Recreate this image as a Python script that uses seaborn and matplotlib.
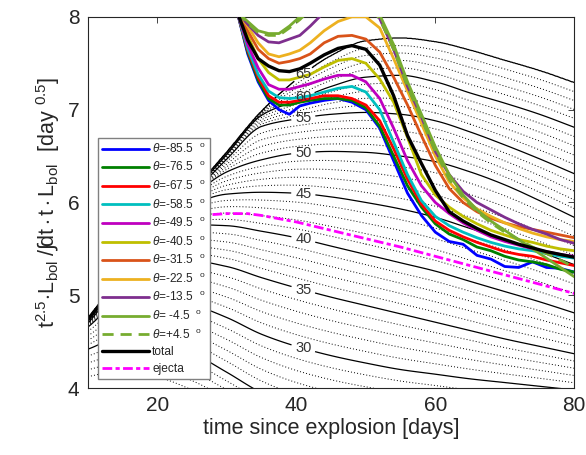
import numpy as np
import pandas as pd
import matplotlib
matplotlib.use("Agg")
import matplotlib.pyplot as plt
import seaborn as sns

# ---------------- data ----------------
# model family (contour levels) : y-position of every 5th level at these times
t_cols = [10, 15, 20, 25, 30, 35, 40, 45, 50, 55, 60, 65, 70, 75, 80]
model_levels = [20, 25, 30, 35, 40, 45, 50, 55, 60, 65]
y_L20 = [4.05, 4.10, 4.02, 3.88, 3.70, 3.52, 3.38, 3.28, 3.20, 3.14, 3.10, 3.06, 3.02, 2.99, 2.96]
y_L25 = [4.42, 4.55, 4.52, 4.38, 4.17, 3.95, 3.80, 3.70, 3.63, 3.58, 3.54, 3.50, 3.47, 3.44, 3.42]
y_L30 = [4.66, 4.95, 4.98, 4.90, 4.76, 4.58, 4.45, 4.35, 4.27, 4.20, 4.15, 4.10, 4.06, 4.02, 3.98]
y_L35 = [4.70, 5.12, 5.33, 5.37, 5.31, 5.19, 5.08, 4.98, 4.89, 4.80, 4.71, 4.62, 4.53, 4.45, 4.37]
y_L40 = [4.72, 5.18, 5.58, 5.76, 5.75, 5.69, 5.62, 5.53, 5.44, 5.35, 5.26, 5.15, 5.04, 4.93, 4.81]
y_L45 = [4.73, 5.20, 5.64, 5.97, 6.09, 6.11, 6.10, 6.06, 6.00, 5.93, 5.84, 5.72, 5.60, 5.47, 5.33]
y_L50 = [4.74, 5.21, 5.66, 6.06, 6.33, 6.46, 6.53, 6.55, 6.54, 6.50, 6.44, 6.33, 6.19, 6.02, 5.84]
y_L55 = [4.745, 5.22, 5.67, 6.08, 6.47, 6.82, 6.90, 6.95, 6.97, 6.95, 6.88, 6.76, 6.62, 6.47, 6.31]
y_L60 = [4.748, 5.225, 5.675, 6.10, 6.52, 6.94, 7.10, 7.25, 7.35, 7.37, 7.30, 7.18, 7.07, 6.95, 6.81]
y_L65 = [4.75, 5.23, 5.68, 6.11, 6.54, 6.98, 7.32, 7.58, 7.74, 7.77, 7.73, 7.64, 7.53, 7.42, 7.29]
labelled_levels = [30, 35, 40, 45, 50, 55, 60, 65]
label_time = 41

# observed curves
x_obs = [31.5, 33, 34.5, 36, 37.5, 39, 40.5, 42, 44, 46, 48, 50, 52, 54, 56, 58,
         60, 62, 64, 66, 68, 70, 72, 74, 76, 78, 80]
y_m85 = [8.05, 7.60, 7.30, 7.10, 7.00, 6.95, 7.04, 7.07, 7.10, 7.12, 7.08, 7.00, 6.80, 6.45, 6.10, 5.86,
         5.68, 5.58, 5.55, 5.43, 5.39, 5.31, 5.30, 5.36, 5.30, 5.29, 5.25]
y_m76 = [8.05, 7.62, 7.32, 7.12, 7.05, 7.05, 7.08, 7.10, 7.12, 7.12, 7.10, 7.02, 6.82, 6.50, 6.18, 5.95,
         5.77, 5.66, 5.60, 5.52, 5.48, 5.42, 5.38, 5.36, 5.33, 5.28, 5.25]
y_m67 = [8.05, 7.64, 7.35, 7.15, 7.08, 7.08, 7.10, 7.12, 7.15, 7.15, 7.12, 7.05, 6.88, 6.58, 6.25, 5.98,
         5.80, 5.70, 5.63, 5.57, 5.52, 5.47, 5.44, 5.42, 5.38, 5.35, 5.32]
y_m58 = [8.05, 7.66, 7.38, 7.20, 7.13, 7.12, 7.13, 7.15, 7.19, 7.23, 7.25, 7.19, 7.00, 6.65, 6.30, 6.02,
         5.85, 5.75, 5.68, 5.62, 5.57, 5.53, 5.50, 5.48, 5.45, 5.42, 5.40]
y_m49 = [8.05, 7.70, 7.45, 7.27, 7.22, 7.22, 7.25, 7.28, 7.33, 7.37, 7.37, 7.30, 7.12, 6.80, 6.45, 6.18,
         6.00, 5.88, 5.78, 5.70, 5.63, 5.58, 5.54, 5.50, 5.47, 5.44, 5.42]
y_m40 = [8.05, 7.80, 7.55, 7.40, 7.32, 7.32, 7.35, 7.38, 7.46, 7.53, 7.55, 7.50, 7.33, 7.08, 6.70, 6.30,
         6.08, 5.95, 5.85, 5.77, 5.70, 5.65, 5.60, 5.57, 5.53, 5.50, 5.48]
y_m31 = [8.05, 7.85, 7.65, 7.55, 7.50, 7.52, 7.55, 7.60, 7.72, 7.79, 7.80, 7.76, 7.62, 7.35, 7.05, 6.72,
         6.40, 6.15, 6.00, 5.90, 5.83, 5.78, 5.74, 5.71, 5.68, 5.65, 5.62]
y_m22 = [8.05, 7.90, 7.72, 7.60, 7.57, 7.60, 7.64, 7.72, 7.85, 7.95, 8.00, 8.00, 7.88, 7.55, 7.20, 6.85,
         6.50, 6.22, 6.05, 5.93, 5.85, 5.78, 5.72, 5.67, 5.63, 5.60, 5.58]
y_m13 = [8.05, 7.92, 7.80, 7.73, 7.72, 7.76, 7.80, 7.90, 8.05, 8.15, 8.20, 8.15, 7.98, 7.65, 7.25, 6.92,
         6.55, 6.30, 6.12, 6.00, 5.92, 5.84, 5.77, 5.71, 5.66, 5.60, 5.56]
y_m04 = [8.05, 7.95, 7.85, 7.82, 7.82, 7.90, 8.00, 8.10, 8.20, 8.25, 8.25, 8.20, 8.02, 7.70, 7.30, 6.95,
         6.60, 6.30, 6.08, 5.92, 5.80, 5.70, 5.60, 5.50, 5.40, 5.30, 5.20]
y_p04 = [8.05, 7.93, 7.83, 7.80, 7.80, 7.88, 7.97, 8.08, 8.18, 8.22, 8.22, 8.15, 7.98, 7.65, 7.25, 6.90,
         6.55, 6.25, 6.05, 5.90, 5.78, 5.68, 5.60, 5.52, 5.45, 5.38, 5.30]
y_total = [8.05, 7.75, 7.55, 7.47, 7.42, 7.41, 7.44, 7.50, 7.59, 7.66, 7.69, 7.65, 7.48, 7.15, 6.72, 6.42,
           6.13, 5.90, 5.80, 5.72, 5.65, 5.60, 5.55, 5.51, 5.47, 5.44, 5.41]
x_ejecta = [25, 28, 30, 33, 35, 40, 45, 50, 55, 60, 65, 70, 75, 80]
y_ejecta = [5.84, 5.87, 5.88, 5.88, 5.86, 5.79, 5.70, 5.61, 5.52, 5.42, 5.32, 5.22, 5.12, 5.02]

theta_labels = ["-85.5", "-76.5", "-67.5", "-58.5", "-49.5", "-40.5", "-31.5", "-22.5", "-13.5", " -4.5", "+4.5"]
theta_colors = ["#0000FF", "#008000", "#FF0000", "#00BFBF", "#BF00BF", "#BFBF00",
                "#D95319", "#EDB120", "#7E2F8E", "#77AC30", "#77AC30"]

# ---------------- style ----------------
sns.set_theme(style="white")
plt.rcParams.update({
    "font.family": ["Liberation Sans", "DejaVu Sans"],
    "mathtext.fontset": "custom",
    "mathtext.rm": "Liberation Sans",
    "mathtext.it": "Liberation Sans:italic",
    "mathtext.bf": "Liberation Sans:bold",
    "axes.edgecolor": "#262626",
    "axes.linewidth": 0.8,
})

fig = plt.figure(figsize=(5.86, 4.55), dpi=100)
ax = fig.add_axes([0.150, 0.147, 0.830, 0.816])


# ---------------- contour field from the level table ----------------
def pchip(x, y, xn):
    x = np.asarray(x, float)
    y = np.asarray(y, float)
    h = np.diff(x)
    d = np.diff(y) / h
    n = len(x)
    m = np.zeros(n)
    for k in range(1, n - 1):
        if d[k - 1] * d[k] > 0:
            w1 = 2 * h[k] + h[k - 1]
            w2 = h[k] + 2 * h[k - 1]
            m[k] = (w1 + w2) / (w1 / d[k - 1] + w2 / d[k])
    m[0] = d[0]
    m[-1] = d[-1]
    idx = np.clip(np.searchsorted(x, xn) - 1, 0, n - 2)
    s = (xn - x[idx]) / h[idx]
    h00 = 2 * s**3 - 3 * s**2 + 1
    h10 = s**3 - 2 * s**2 + s
    h01 = -2 * s**3 + 3 * s**2
    h11 = s**3 - s**2
    return h00 * y[idx] + h10 * h[idx] * m[idx] + h01 * y[idx + 1] + h11 * h[idx] * m[idx + 1]


level_table = np.array([y_L20, y_L25, y_L30, y_L35, y_L40, y_L45, y_L50, y_L55, y_L60, y_L65])
t_fine = np.linspace(10, 80, 561)
y_fine = np.linspace(3.9, 8.2, 1076)
ys = np.array([pchip(t_cols, row, t_fine) for row in level_table])
k = np.arange(len(model_levels))[:, None] * 2e-4
ys = np.maximum.accumulate(ys - k, axis=0) + k
Z = np.empty((len(y_fine), len(t_fine)))
for j in range(len(t_fine)):
    xp = np.r_[-10.0, ys[:, j], 30.0]
    fp = np.r_[0.0, model_levels, 66.0]
    Z[:, j] = np.interp(y_fine, xp, fp)
T, Y = np.meshgrid(t_fine, y_fine)

dotted_levels = [v for v in range(21, 65) if v % 5 != 0]
ax.contour(T, Y, Z, levels=dotted_levels, colors="black", linewidths=0.7,
           linestyles=[(0, (1.0, 2.2))], zorder=1)
ax.contour(T, Y, Z, levels=[25], colors="black", linewidths=0.9, zorder=1.5)
cs = ax.contour(T, Y, Z, levels=labelled_levels, colors="black", linewidths=0.9, zorder=1.5)
lab_pos = [(label_time, float(np.interp(label_time, t_cols, level_table[model_levels.index(L)])))
           for L in labelled_levels]
texts = ax.clabel(cs, inline=True, fmt="%d", fontsize=10.5, colors="#333333",
                  manual=lab_pos, inline_spacing=4)
for tx in texts:
    tx.set_rotation(0)

# ---------------- observed curves ----------------
series = [y_m85, y_m76, y_m67, y_m58, y_m49, y_m40, y_m31, y_m22, y_m13, y_m04, y_p04]
for ys_, lab, col in zip(series, theta_labels, theta_colors):
    line_ax = sns.lineplot(x=x_obs, y=ys_, ax=ax, color=col, lw=2.0, sort=False, estimator=None,
                           label=r"$\theta$=" + lab + r"  $^{\rm o}$", zorder=3)
    if lab == "+4.5":
        line_ax.lines[-1].set_dashes((4, 2.5))
sns.lineplot(x=x_obs, y=y_total, ax=ax, color="black", lw=2.4, sort=False, estimator=None,
             label="total", zorder=4)
sns.lineplot(x=x_ejecta, y=y_ejecta, ax=ax, color="#FF00FF", lw=2.0, sort=False, estimator=None,
             label="ejecta", zorder=3)
ax.lines[-1].set_dashes((3.5, 1.2, 1.5, 1.2))

ax.set_xlim(10, 80)
ax.set_ylim(4, 8)
ax.set_xticks([20, 40, 60, 80])
ax.set_yticks([4, 5, 6, 7, 8])
ax.tick_params(direction="in", top=True, right=True, length=4, width=0.6,
               labelsize=15, colors="#262626", pad=6)
for sp in ax.spines.values():
    sp.set_visible(True)
    sp.set_color("#262626")

ax.set_xlabel("time since explosion [days]", fontsize=15.5, color="#262626", labelpad=2)
ax.set_ylabel(r"$\mathrm{t}^{2.5}\!\cdot\!\mathrm{L_{bol}}\;/\int\!\mathrm{dt}\cdot\mathrm{t}\cdot\mathrm{L_{bol}}$  [day $^{0.5}$]",
              fontsize=15.5, color="#262626", labelpad=4)

leg = ax.legend(loc="upper left", bbox_to_anchor=(0.0206, 0.674), borderaxespad=0,
                fontsize=8.6, handlelength=3.9, labelspacing=0.40, handletextpad=0.3,
                borderpad=0.35, frameon=True, fancybox=False, framealpha=1)
leg.get_frame().set_edgecolor("#808080")
leg.get_frame().set_linewidth(1.0)
leg.set_zorder(10)

fig.savefig("out.png", dpi=100)
